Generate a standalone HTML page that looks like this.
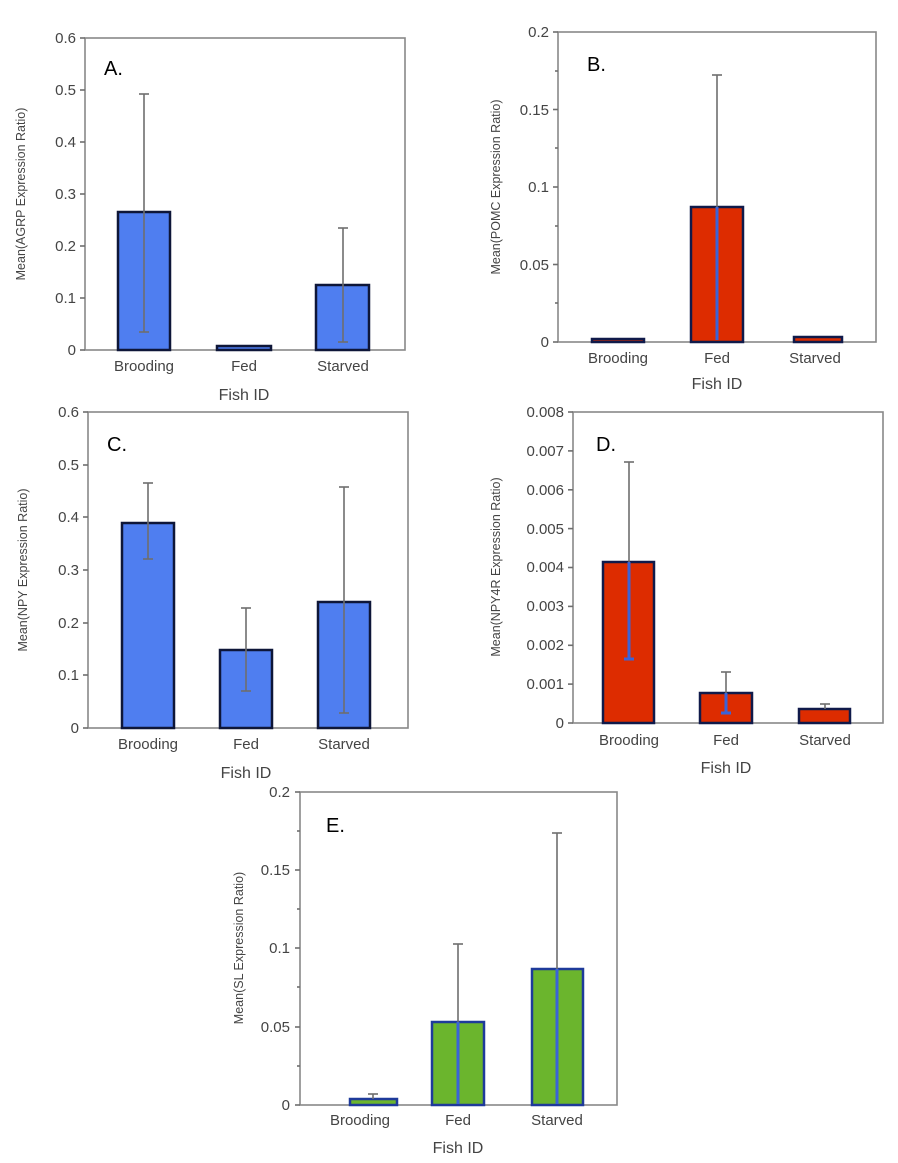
<!DOCTYPE html>
<html><head><meta charset="utf-8"><style>
body{margin:0;background:#fff}
svg{display:block}
text{font-family:"Liberation Sans","DejaVu Sans",sans-serif;fill:#444}
.t{font-size:15px;text-anchor:end}
.x{font-size:15px;text-anchor:middle}
.f{font-size:16px;text-anchor:middle}
.yt{font-size:12.5px;text-anchor:middle}
.p{font-size:20px;fill:#000}
.box{fill:none;stroke:#888;stroke-width:1.6}
.e{stroke:#6e6e6e;stroke-width:1.6}
.eb{stroke:#3a63d8;stroke-width:3}
.bb{fill:#4f7ef0;stroke:#0e1638;stroke-width:2.5}
.rb{fill:#dd2c00;stroke:#101a4a;stroke-width:2.5}
.gb{fill:#6bb52d;stroke:#1e3a9a;stroke-width:2.5}
</style></head><body>
<svg width="898" height="1163" xmlns="http://www.w3.org/2000/svg">
<!-- Panel A -->
<rect class="box" x="85" y="38" width="320" height="312"/>
<g class="e"><line x1="80" y1="350" x2="85" y2="350"/><line x1="80" y1="298" x2="85" y2="298"/><line x1="80" y1="246" x2="85" y2="246"/><line x1="80" y1="194" x2="85" y2="194"/><line x1="80" y1="142" x2="85" y2="142"/><line x1="80" y1="90" x2="85" y2="90"/><line x1="80" y1="38" x2="85" y2="38"/></g>
<text class="t" x="76" y="355">0</text><text class="t" x="76" y="303">0.1</text><text class="t" x="76" y="251">0.2</text><text class="t" x="76" y="199">0.3</text><text class="t" x="76" y="147">0.4</text><text class="t" x="76" y="95">0.5</text><text class="t" x="76" y="43">0.6</text>
<text class="yt" transform="translate(25,194) rotate(-90)">Mean(AGRP Expression Ratio)</text>
<text class="p" x="104" y="75">A.</text>
<rect class="bb" x="118" y="212" width="52" height="138"/>
<rect class="bb" x="217" y="346" width="54" height="4"/>
<rect class="bb" x="316" y="285" width="53" height="65"/>
<g class="e"><line x1="144" y1="94" x2="144" y2="332"/><line x1="139" y1="94" x2="149" y2="94"/><line x1="139" y1="332" x2="149" y2="332"/>
<line x1="343" y1="228" x2="343" y2="342"/><line x1="338" y1="228" x2="348" y2="228"/><line x1="338" y1="342" x2="348" y2="342"/></g>
<text class="x" x="144" y="371">Brooding</text><text class="x" x="244" y="371">Fed</text><text class="x" x="343" y="371">Starved</text>
<text class="f" x="244" y="400">Fish ID</text>

<!-- Panel B -->
<rect class="box" x="558" y="32" width="318" height="310"/>
<g class="e"><line x1="553" y1="342" x2="558" y2="342"/><line x1="555" y1="303" x2="558" y2="303"/><line x1="553" y1="264.5" x2="558" y2="264.5"/><line x1="555" y1="226" x2="558" y2="226"/><line x1="553" y1="187" x2="558" y2="187"/><line x1="555" y1="148" x2="558" y2="148"/><line x1="553" y1="109.5" x2="558" y2="109.5"/><line x1="555" y1="71" x2="558" y2="71"/><line x1="553" y1="32" x2="558" y2="32"/></g>
<text class="t" x="549" y="347">0</text><text class="t" x="549" y="270">0.05</text><text class="t" x="549" y="192">0.1</text><text class="t" x="549" y="115">0.15</text><text class="t" x="549" y="37">0.2</text>
<text class="yt" transform="translate(500,187) rotate(-90)">Mean(POMC Expression Ratio)</text>
<text class="p" x="587" y="71">B.</text>
<rect class="rb" x="592" y="339" width="52" height="3"/>
<rect class="rb" x="691" y="207" width="52" height="135"/>
<rect class="rb" x="794" y="337" width="48" height="5"/>
<g class="e"><line x1="717" y1="75" x2="717" y2="207"/><line x1="712" y1="75" x2="722" y2="75"/></g>
<line class="eb" x1="717" y1="207" x2="717" y2="340"/>
<text class="x" x="618" y="363">Brooding</text><text class="x" x="717" y="363">Fed</text><text class="x" x="815" y="363">Starved</text>
<text class="f" x="717" y="389">Fish ID</text>

<!-- Panel C -->
<rect class="box" x="88" y="412" width="320" height="316"/>
<g class="e"><line x1="83" y1="728" x2="88" y2="728"/><line x1="83" y1="675" x2="88" y2="675"/><line x1="83" y1="623" x2="88" y2="623"/><line x1="83" y1="570" x2="88" y2="570"/><line x1="83" y1="517" x2="88" y2="517"/><line x1="83" y1="465" x2="88" y2="465"/><line x1="83" y1="412" x2="88" y2="412"/></g>
<text class="t" x="79" y="733">0</text><text class="t" x="79" y="680">0.1</text><text class="t" x="79" y="628">0.2</text><text class="t" x="79" y="575">0.3</text><text class="t" x="79" y="522">0.4</text><text class="t" x="79" y="470">0.5</text><text class="t" x="79" y="417">0.6</text>
<text class="yt" transform="translate(27,570) rotate(-90)">Mean(NPY Expression Ratio)</text>
<text class="p" x="107" y="451">C.</text>
<rect class="bb" x="122" y="523" width="52" height="205"/>
<rect class="bb" x="220" y="650" width="52" height="78"/>
<rect class="bb" x="318" y="602" width="52" height="126"/>
<g class="e"><line x1="148" y1="483" x2="148" y2="559"/><line x1="143" y1="483" x2="153" y2="483"/><line x1="143" y1="559" x2="153" y2="559"/>
<line x1="246" y1="608" x2="246" y2="691"/><line x1="241" y1="608" x2="251" y2="608"/><line x1="241" y1="691" x2="251" y2="691"/>
<line x1="344" y1="487" x2="344" y2="713"/><line x1="339" y1="487" x2="349" y2="487"/><line x1="339" y1="713" x2="349" y2="713"/></g>
<text class="x" x="148" y="749">Brooding</text><text class="x" x="246" y="749">Fed</text><text class="x" x="344" y="749">Starved</text>
<text class="f" x="246" y="778">Fish ID</text>

<!-- Panel D -->
<rect class="box" x="573" y="412" width="310" height="311"/>
<g class="e"><line x1="568" y1="723" x2="573" y2="723"/><line x1="568" y1="684.1" x2="573" y2="684.1"/><line x1="568" y1="645.3" x2="573" y2="645.3"/><line x1="568" y1="606.4" x2="573" y2="606.4"/><line x1="568" y1="567.5" x2="573" y2="567.5"/><line x1="568" y1="528.6" x2="573" y2="528.6"/><line x1="568" y1="489.8" x2="573" y2="489.8"/><line x1="568" y1="450.9" x2="573" y2="450.9"/><line x1="568" y1="412" x2="573" y2="412"/></g>
<text class="t" x="564" y="728">0</text><text class="t" x="564" y="689">0.001</text><text class="t" x="564" y="650">0.002</text><text class="t" x="564" y="611">0.003</text><text class="t" x="564" y="572">0.004</text><text class="t" x="564" y="534">0.005</text><text class="t" x="564" y="495">0.006</text><text class="t" x="564" y="456">0.007</text><text class="t" x="564" y="417">0.008</text>
<text class="yt" transform="translate(500,567) rotate(-90)">Mean(NPY4R Expression Ratio)</text>
<text class="p" x="596" y="451">D.</text>
<rect class="rb" x="603" y="562" width="51" height="161"/>
<rect class="rb" x="700" y="693" width="52" height="30"/>
<rect class="rb" x="799" y="709" width="51" height="14"/>
<g class="e"><line x1="629" y1="462" x2="629" y2="562"/><line x1="624" y1="462" x2="634" y2="462"/>
<line x1="726" y1="672" x2="726" y2="693"/><line x1="721" y1="672" x2="731" y2="672"/>
<line x1="825" y1="704" x2="825" y2="709"/><line x1="820" y1="704" x2="830" y2="704"/></g>
<g class="eb"><line x1="629" y1="562" x2="629" y2="659"/><line x1="624" y1="659" x2="634" y2="659"/><line x1="726" y1="693" x2="726" y2="713"/><line x1="721" y1="713" x2="731" y2="713"/></g>
<text class="x" x="629" y="745">Brooding</text><text class="x" x="726" y="745">Fed</text><text class="x" x="825" y="745">Starved</text>
<text class="f" x="726" y="773">Fish ID</text>

<!-- Panel E -->
<rect class="box" x="300" y="792" width="317" height="313"/>
<g class="e"><line x1="295" y1="1105" x2="300" y2="1105"/><line x1="297" y1="1066" x2="300" y2="1066"/><line x1="295" y1="1027" x2="300" y2="1027"/><line x1="297" y1="987" x2="300" y2="987"/><line x1="295" y1="948" x2="300" y2="948"/><line x1="297" y1="909" x2="300" y2="909"/><line x1="295" y1="870" x2="300" y2="870"/><line x1="297" y1="831" x2="300" y2="831"/><line x1="295" y1="792" x2="300" y2="792"/></g>
<text class="t" x="290" y="1110">0</text><text class="t" x="290" y="1032">0.05</text><text class="t" x="290" y="953">0.1</text><text class="t" x="290" y="875">0.15</text><text class="t" x="290" y="797">0.2</text>
<text class="yt" transform="translate(243,948) rotate(-90)">Mean(SL Expression Ratio)</text>
<text class="p" x="326" y="832">E.</text>
<rect class="gb" x="350" y="1099" width="47" height="6"/>
<rect class="gb" x="432" y="1022" width="52" height="83"/>
<rect class="gb" x="532" y="969" width="51" height="136"/>
<g class="e"><line x1="373" y1="1094" x2="373" y2="1099"/><line x1="368" y1="1094" x2="378" y2="1094"/>
<line x1="458" y1="944" x2="458" y2="1022"/><line x1="453" y1="944" x2="463" y2="944"/>
<line x1="557" y1="833" x2="557" y2="969"/><line x1="552" y1="833" x2="562" y2="833"/></g>
<g class="eb"><line x1="458" y1="1022" x2="458" y2="1104"/><line x1="557" y1="969" x2="557" y2="1104"/></g>
<text class="x" x="360" y="1125">Brooding</text><text class="x" x="458" y="1125">Fed</text><text class="x" x="557" y="1125">Starved</text>
<text class="f" x="458" y="1153">Fish ID</text>
</svg>
</body></html>
